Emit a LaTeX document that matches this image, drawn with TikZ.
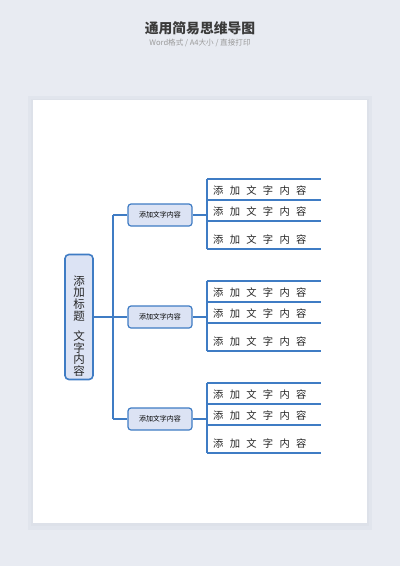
\documentclass[tikz,border=0pt]{standalone}
\usepackage{fontspec}
\setmainfont{Noto Sans CJK SC}
\newfontfamily\cjk{Noto Sans CJK SC}
\definecolor{bgc}{HTML}{E8EBF2}
\definecolor{shadowc}{HTML}{DDE1E9}
\definecolor{linec}{HTML}{3F7CC4}
\definecolor{boxfill}{HTML}{DCE3F4}
\definecolor{titlec}{HTML}{3A3A3A}
\definecolor{subc}{HTML}{9A9A9A}
\newcommand\gapx{\hspace{6.3pt}}
\begin{document}
\begin{tikzpicture}[x=1pt,y=-1pt,
  conn/.style={draw=linec,line width=1.5pt},
  rootbox/.style={draw=linec,line width=1.6pt,fill=boxfill,rounded corners=4pt,minimum width=28pt,minimum height=125pt,inner sep=0pt},
  rootlabel/.style={inner sep=0pt,align=center,font=\fontsize{11.5}{11.8}\selectfont,text=black!85},
  branchbox/.style={draw=linec,line width=1.2pt,fill=boxfill,rounded corners=3pt,minimum width=64pt,minimum height=22pt,inner sep=0pt,font=\fontsize{7}{8}\selectfont},
  leaftext/.style={anchor=west,inner sep=0pt,font=\fontsize{10.3}{12}\selectfont,text=black!85}
]
\useasboundingbox (0,0) rectangle (400,566);
\fill[bgc] (0,0) rectangle (400,566);
\fill[shadowc!60!bgc] (28,96) rectangle (372,530);
\fill[shadowc] (31,99) rectangle (369,526);
\fill[white] (33,100) rectangle (367,523);

\node[font=\bfseries\fontsize{13.8}{15}\selectfont,text=titlec] (title) at (200,28) {通用简易思维导图};
\node[font=\fontsize{7.6}{9}\selectfont,text=subc] (subtitle) at (200,43) {Word格式 / A4大小 / 直接打印};

\node[rootbox] (root) at (79,317) {};
\node[rootlabel] (rootlab) at (79,326) {添\\加\\标\\题\\[8pt]文\\字\\内\\容};
\coordinate (trunkmid) at (113,317);
\coordinate (trunktop) at (113,215);
\coordinate (trunkbot) at (113,419);
\draw[conn] (root.east) -- (trunkmid);
\draw[conn] (trunktop) -- (trunkbot);

\foreach \T [count=\i] in {179,281,383}{
  \node[branchbox] (b\i) at (160,\T+36) {添加文字内容};
  \coordinate (bl\i) at (113,\T+36);
  \coordinate (vm\i) at (207,\T+36);
  \draw[conn] (bl\i) -- (b\i.west);
  \draw[conn] (b\i.east) -- (vm\i);
  \coordinate (vt\i) at (207,\T);
  \coordinate (vb\i) at (207,\T+70);
  \draw[conn] (vt\i) -- (vb\i);
  \foreach \d [count=\j] in {0,21,42,70}{
    \coordinate (ls\i\j) at (207,\T+\d);
    \coordinate (le\i\j) at (321,\T+\d);
    \draw[conn] (ls\i\j) -- (le\i\j);
  }
  \foreach \d [count=\j] in {12,33,61}{
    \node[leaftext] (t\i\j) at (213,\T+\d) {添\gapx 加\gapx 文\gapx 字\gapx 内\gapx 容};
  }
}
\end{tikzpicture}
\end{document}
